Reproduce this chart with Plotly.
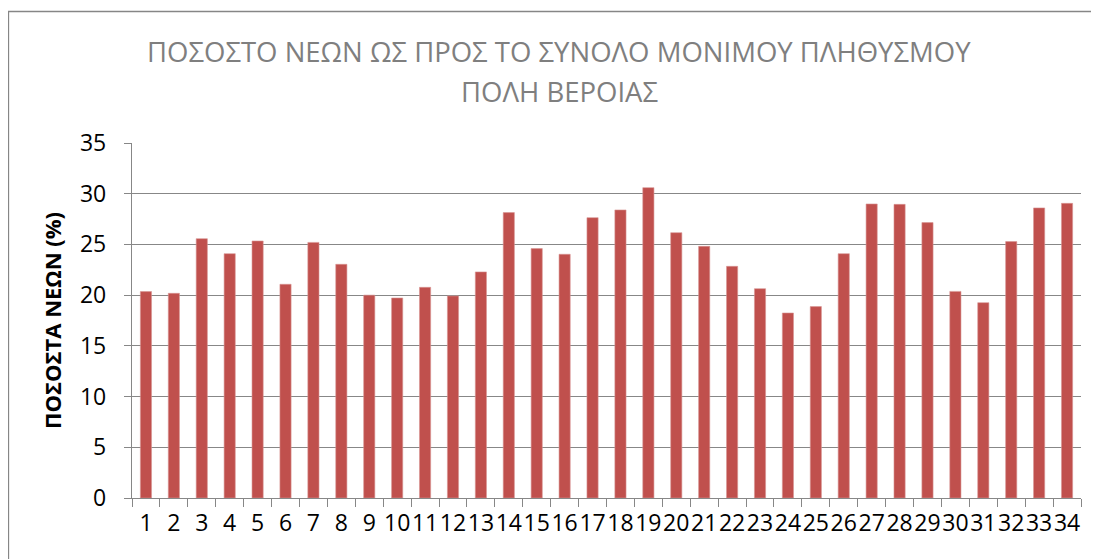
import plotly.graph_objects as go

categories = [str(i) for i in range(1, 35)]
values = [20.35, 20.18, 25.57, 24.09, 25.34, 21.07, 25.2, 23.04, 20.0, 19.72,
          20.77, 19.92, 22.29, 28.14, 24.59, 24.03, 27.64, 28.4, 30.6, 26.16,
          24.81, 22.84, 20.64, 18.24, 18.87, 24.09, 28.99, 28.95, 27.15, 20.37,
          19.26, 25.28, 28.6, 29.05]
y_ticks = [0, 5, 10, 15, 20, 25, 30, 35]

title_line1 = "ΠΟΣΟΣΤΟ ΝΕΩΝ ΩΣ ΠΡΟΣ ΤΟ ΣΥΝΟΛΟ ΜΟΝΙΜΟΥ ΠΛΗΘΥΣΜΟΥ"
title_line2 = "ΠΟΛΗ ΒΕΡΟΙΑΣ"
y_title = "ΠΟΣΟΣΤΑ ΝΕΩΝ (%)"

# page body has an 8px margin; compensate
OFF = 8
W, H = 1099 - OFF, 559 - OFF
ml, mr, mt, mb = 132 - OFF, 18, 143 - OFF, 61
pw = W - ml - mr
ph = H - mt - mb

fig = go.Figure(go.Bar(
    x=categories, y=values,
    marker=dict(color="#C0504D", line=dict(color="#D99694", width=0.6)),
    width=0.4,
))

grid = "#878787"
title_font = dict(family="Open Sans", size=27.5, color="#7F7F7F")
cx = (559 - OFF - ml) / pw

fig.update_layout(
    width=W, height=H,
    margin=dict(l=ml, r=mr, t=mt, b=mb, pad=0),
    paper_bgcolor="white", plot_bgcolor="white",
    font=dict(family="Open Sans", color="black"),
    showlegend=False,
    xaxis=dict(
        type="category", tickson="boundaries", ticks="outside", ticklen=8,
        tickcolor=grid, tickwidth=1.3, showline=True, linecolor=grid, linewidth=1.3,
        tickmode="array", tickvals=categories, ticktext=categories, tickangle=0,
        tickfont=dict(size=23, color="black"), showgrid=False, ticklabelstandoff=4,
        range=[-0.5, 33.5],
    ),
    yaxis=dict(
        range=[0, 35], tickvals=y_ticks, ticks="outside", ticklen=7,
        tickcolor=grid, tickwidth=1.3, showline=True, linecolor=grid, linewidth=1.3,
        showgrid=True, gridcolor=grid, gridwidth=1.3,
        tickfont=dict(size=23, color="black"), ticklabelstandoff=13,
        title=dict(text="<b>" + y_title + "</b>", font=dict(size=22, color="black"), standoff=12),
        zeroline=False,
    ),
    annotations=[
        dict(text=title_line1, xref="paper", yref="paper", x=cx, y=1 + (143 - 52) / ph,
             xanchor="center", yanchor="middle", showarrow=False, font=title_font),
        dict(text=title_line2, xref="paper", yref="paper", x=cx, y=1 + (143 - 92) / ph,
             xanchor="center", yanchor="middle", showarrow=False, font=title_font),
    ],
    shapes=[dict(
        type="rect", xref="paper", yref="paper",
        x0=(0.5 - ml) / pw, x1=(W + 20 - ml) / pw,
        y0=-(mb + 20) / ph, y1=1 + (mt - (11.5 - OFF)) / ph,
        line=dict(color="#868686", width=1.3), fillcolor="rgba(0,0,0,0)", layer="below",
    )],
)

fig.write_html("out.html")
